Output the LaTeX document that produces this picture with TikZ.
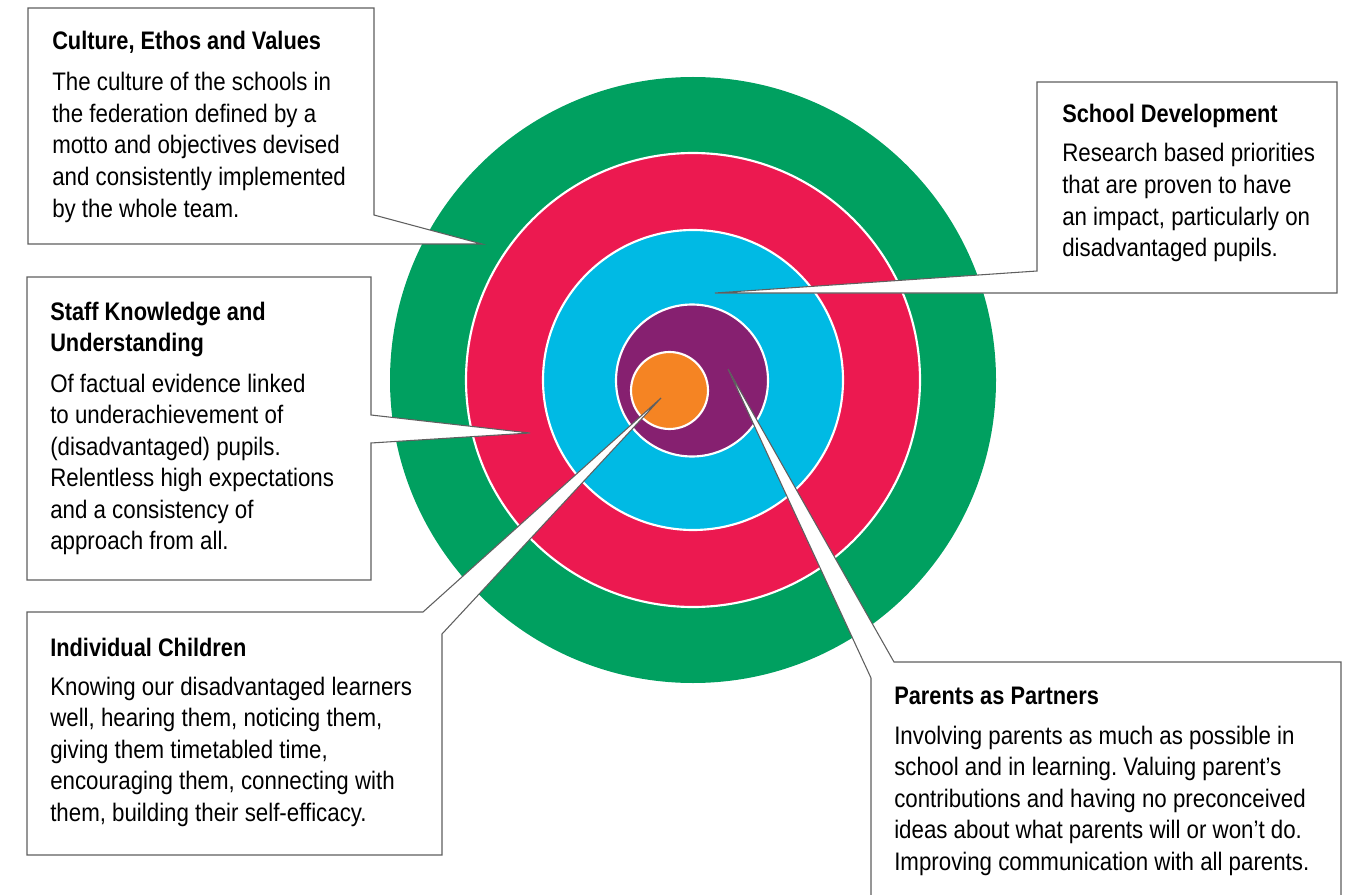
\documentclass[tikz,border=0pt]{standalone}
\usepackage{fontspec}
\setmainfont{Liberation Sans}[FakeStretch=0.88,BoldFeatures={FakeStretch=0.86}]
\frenchspacing
\definecolor{ringgreen}{RGB}{0,160,96}
\definecolor{ringred}{RGB}{236,25,80}
\definecolor{ringcyan}{RGB}{0,186,228}
\definecolor{ringpurple}{RGB}{134,32,112}
\definecolor{ringorange}{RGB}{245,132,35}
\definecolor{calloutline}{RGB}{95,95,95}
\newcommand{\bodyfont}{\fontsize{19pt}{23.7pt}\selectfont}
\tikzset{
  ring/.style={draw=white,line width=1.6pt},
  callout/.style={fill=white,draw=calloutline,line width=0.8pt,line join=miter},
  titletext/.style={anchor=base west,inner sep=0pt,font=\bodyfont\bfseries},
  bodytext/.style={anchor=base west,inner sep=0pt,font=\bodyfont}
}
\begin{document}
\begin{tikzpicture}[x=0.75pt,y=-0.75pt]
\useasboundingbox (0,0) rectangle (1350,895);
\clip (0,0) rectangle (1350,895);
% rings
\fill[ringgreen] (693,380) circle[radius=303];
\filldraw[ring,fill=ringred] (693,380) circle[radius=227];
\filldraw[ring,fill=ringcyan] (693,380) circle[radius=150];
\filldraw[ring,fill=ringpurple] (692,380.5) circle[radius=76];
\filldraw[ring,fill=ringorange] (669.5,390.5) circle[radius=38.5];
% callouts
\draw[callout] (28,8) -- (374,8) -- (374,215) -- (482,244) -- (28,244) -- cycle;
\draw[callout] (27,277) -- (371,277) -- (371,415) -- (530,433) -- (371,443) -- (371,580) -- (27,580) -- cycle;
\draw[callout] (27,612) -- (423,612) -- (661,398) -- (442,634) -- (442,855) -- (27,855) -- cycle;
\draw[callout] (1037,82) -- (1337,82) -- (1337,293) -- (715,293) -- (1037,271) -- cycle;
\draw[callout] (871,905) -- (871,678) -- (728,369) -- (894,662) -- (1341,662) -- (1341,905);
% texts
\node[titletext] (t1) at (52,50) {Culture, Ethos and Values};
\node[bodytext] (b1) at (52,90.7) {\parbox[t]{330pt}{\bodyfont\raggedright
The culture of the schools in\\
the federation defined by a\\
motto and objectives devised\\
and consistently implemented\\
by the whole team.}};
\node[titletext] (t2) at (50,320) {\parbox[t]{330pt}{\bodyfont\bfseries\raggedright
Staff Knowledge and\\
Understanding}};
\node[bodytext] (b2) at (50,392) {\parbox[t]{330pt}{\bodyfont\raggedright
Of factual evidence linked\\
to underachievement of\\
(disadvantaged) pupils.\\
Relentless high expectations\\
and a consistency of\\
approach from all.}};
\node[titletext] (t3) at (50,656) {Individual Children};
\node[bodytext] (b3) at (50,695) {\parbox[t]{400pt}{\bodyfont\raggedright
Knowing our disadvantaged learners\\
well, hearing them, noticing them,\\
giving them timetabled time,\\
encouraging them, connecting with\\
them, building their self-efficacy.}};
\node[titletext] (t4) at (1062,123) {School Development};
\node[bodytext] (b4) at (1062,162) {\parbox[t]{300pt}{\bodyfont\raggedright
Research based priorities\\
that are proven to have\\
an impact, particularly on\\
disadvantaged pupils.}};
\node[titletext] (t5) at (894,704) {Parents as Partners};
\node[bodytext] (b5) at (894,744) {\parbox[t]{430pt}{\bodyfont\raggedright
Involving parents as much as possible in\\
school and in learning. Valuing parent’s\\
contributions and having no preconceived\\
ideas about what parents will or won’t do.\\
Improving communication with all parents.}};
\end{tikzpicture}
\end{document}
